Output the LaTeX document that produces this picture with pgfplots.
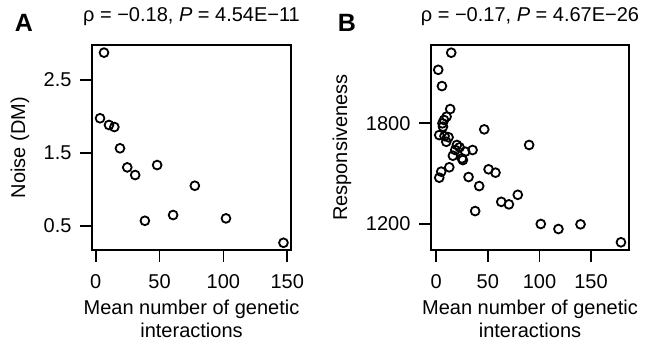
\documentclass[border=0pt]{standalone}
\usepackage{fontspec}
\setmainfont{Liberation Sans}
\usepackage{pgfplots}
\pgfplotsset{compat=1.18}
\newcommand\fs{\fontsize{20}{23}\selectfont}
\pgfplotsset{rstyle/.style={
  scale only axis, anchor=south west,
  axis line style={line width=2pt},
  tick style={line width=1.8pt, black},
  major tick length=12pt, tick align=outside,
  xtick pos=lower, ytick pos=left,
  /pgf/number format/assume math mode=true,
  /pgf/number format/set thousands separator={},
  tick label style={font=\fs},
  xticklabel style={yshift=-9pt},
  yticklabel style={xshift=-5pt},
  label style={font=\fs},
  title style={font=\fs, at={(0.5,1)}, anchor=base, yshift=17pt},
  xlabel style={at={(axis description cs:0.5,0)}, anchor=north, yshift=-46pt, align=center},
  scaled ticks=false,
}}
\begin{document}
\begin{tikzpicture}
\useasboundingbox (0,0) rectangle (653pt,344pt);
\node[font=\fontsize{25}{25}\selectfont\bfseries, anchor=base] at (24pt,312pt) {A};
\node[font=\fontsize{25}{25}\selectfont\bfseries, anchor=base] at (347pt,312pt) {B};
\begin{axis}[rstyle, at={(92pt,94pt)}, width=199pt, height=205pt,
  xmin=-2.9, xmax=152.9, ymin=0.166, ymax=2.98,
  xtick={0,50,100,150}, ytick={0.5,1.5,2.5},
  yticklabel style={/pgf/number format/fixed, /pgf/number format/precision=1},
  title={ρ = −0.18, \textit{P} = 4.54E−11},
  xlabel={Mean number of genetic\\interactions},
  ylabel={Noise (DM)},
  ylabel style={at={(axis description cs:-0.362,0.5)}, anchor=center}]
\addplot[only marks, mark=o, mark size=4.4pt, line width=1.8pt, black] coordinates {
(6.5,2.875) (3.4,1.974) (10.4,1.882) (14.6,1.854) (19,1.562) (24.7,1.30)
(30.9,1.195) (48.1,1.332) (38.5,0.567) (60.6,0.646) (77.6,1.048) (102,0.60) (147,0.265)
};
\end{axis}
\begin{axis}[rstyle, at={(431pt,94pt)}, width=198pt, height=205pt,
  xmin=-5.1, xmax=186.8, ymin=1045, ymax=2267,
  xtick={0,50,100,150}, ytick={1200,1800},
  title={ρ = −0.17, \textit{P} = 4.67E−26},
  xlabel={Mean number of genetic\\interactions},
  ylabel={Responsiveness},
  ylabel style={at={(axis description cs:-0.4495,0.5)}, anchor=center}]
\addplot[only marks, mark=o, mark size=4.4pt, line width=1.8pt, black] coordinates {
(14.5,2221) (1.9,2119) (5.5,2022) (13.5,1885)
(10,1840) (7.5,1820) (6,1800) (6.5,1780)
(2.9,1730) (8,1724) (11.9,1717) (9.7,1690) (46.5,1764)
(20,1671) (22.6,1657) (18.4,1641) (28.1,1631) (35.2,1641)
(16.1,1607) (24.9,1591) (25.8,1581) (90,1671)
(12.6,1538) (4.8,1512) (2.9,1476) (31.3,1480) (50.7,1526) (57.4,1506)
(41.6,1426) (79,1374) (63,1332) (70.4,1317) (37.7,1277)
(101.3,1200) (118.4,1170) (139.8,1198) (179,1091)
};
\end{axis}
\end{tikzpicture}
\end{document}
